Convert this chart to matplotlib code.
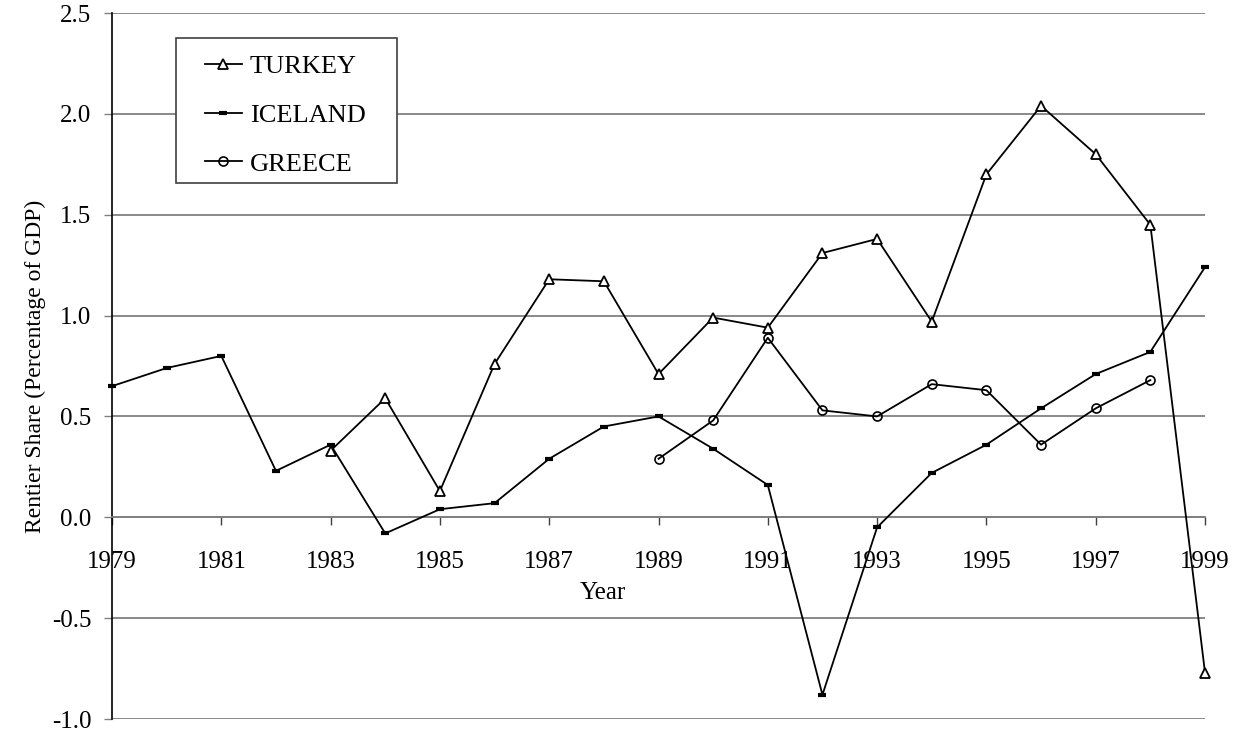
import numpy as np
import matplotlib
matplotlib.use("Agg")
import matplotlib.pyplot as plt
from matplotlib.patches import Rectangle

# data
years = list(range(1979, 2000))
nan = np.nan
turkey = [nan, nan, nan, nan, 0.33, 0.59, 0.13, 0.76, 1.18, 1.17,
          0.71, 0.99, 0.94, 1.31, 1.38, 0.97, 1.70, 2.04, 1.80, 1.45, -0.77]
iceland = [0.65, 0.74, 0.80, 0.23, 0.36, -0.08, 0.04, 0.07, 0.29, 0.45,
           0.50, 0.34, 0.16, -0.88, -0.05, 0.22, 0.36, 0.54, 0.71, 0.82, 1.24]
greece = [nan, nan, nan, nan, nan, nan, nan, nan, nan, nan,
          0.29, 0.48, 0.89, 0.53, 0.50, 0.66, 0.63, 0.36, 0.54, 0.68, nan]

y_ticks = [-1.0, -0.5, 0.0, 0.5, 1.0, 1.5, 2.0, 2.5]
x_ticks = list(range(1979, 2000, 2))

plt.rcParams['font.family'] = ['Liberation Serif', 'DejaVu Serif']

fig = plt.figure(figsize=(12.41, 7.35), dpi=100)
ax = fig.add_axes([112/1241, 16/735, 1093/1241, 706/735])

ax.plot(years, turkey, color='black', lw=1.3, marker='^', ms=6.5,
        mfc='white', mec='black', mew=1.3, label='TURKEY', zorder=3, clip_on=False)
ax.plot(years, iceland, color='black', lw=1.3, marker='_', ms=6,
        mec='black', mew=3, label='ICELAND', zorder=3, clip_on=False)
ax.plot(years, greece, color='black', lw=1.3, marker='o', ms=6.5,
        mfc='none', mec='black', mew=1.2, label='GREECE', zorder=3, clip_on=False)

ax.set_xlim(1979, 1999)
ax.set_ylim(-1.0, 2.5)
ax.set_yticks(y_ticks)
ax.set_yticklabels([f'{v:.1f}' for v in y_ticks])
ax.set_xticks(x_ticks)
ax.set_xticklabels([str(x) for x in x_ticks])

ax.yaxis.grid(True, color='#808080', lw=1.3)
ax.set_axisbelow(True)

ax.spines['top'].set_visible(False)
ax.spines['right'].set_visible(False)
ax.spines['bottom'].set_position(('data', 0))
ax.spines['bottom'].set_color('#808080')
ax.spines['bottom'].set_linewidth(1.3)
ax.spines['left'].set_linewidth(1.2)

ax.tick_params(axis='y', direction='out', length=6, width=1, color='#808080',
               labelsize=18, pad=9)
ax.tick_params(axis='x', direction='out', length=6, width=1, color='#404040',
               labelsize=18, pad=18)

ax.set_xlabel('Year', fontsize=18)
ax.xaxis.set_label_coords((603-112)/1093, (719-593)/706)
ax.xaxis.label.set_va('center')
ax.set_ylabel('Rentier Share (Percentage of GDP)', fontsize=17)
ax.yaxis.set_label_coords(-77/1093, 0.5)
ax.yaxis.label.set_va('center')

# legend box drawn separately so the padding matches
box = Rectangle(((176-112)/1093, (719-183)/706), 221/1093, 145/706,
                transform=ax.transAxes, facecolor='white', edgecolor='#404040',
                lw=1.2, zorder=4)
ax.add_patch(box)
leg = ax.legend(loc='upper left', bbox_to_anchor=((205-112)/1093, (719-55)/706),
                frameon=False, fontsize=19, handlelength=1.4, handletextpad=0.3,
                labelspacing=0.95, borderpad=0, borderaxespad=0)
leg.set_zorder(5)

fig.savefig('out.png', dpi=100)
